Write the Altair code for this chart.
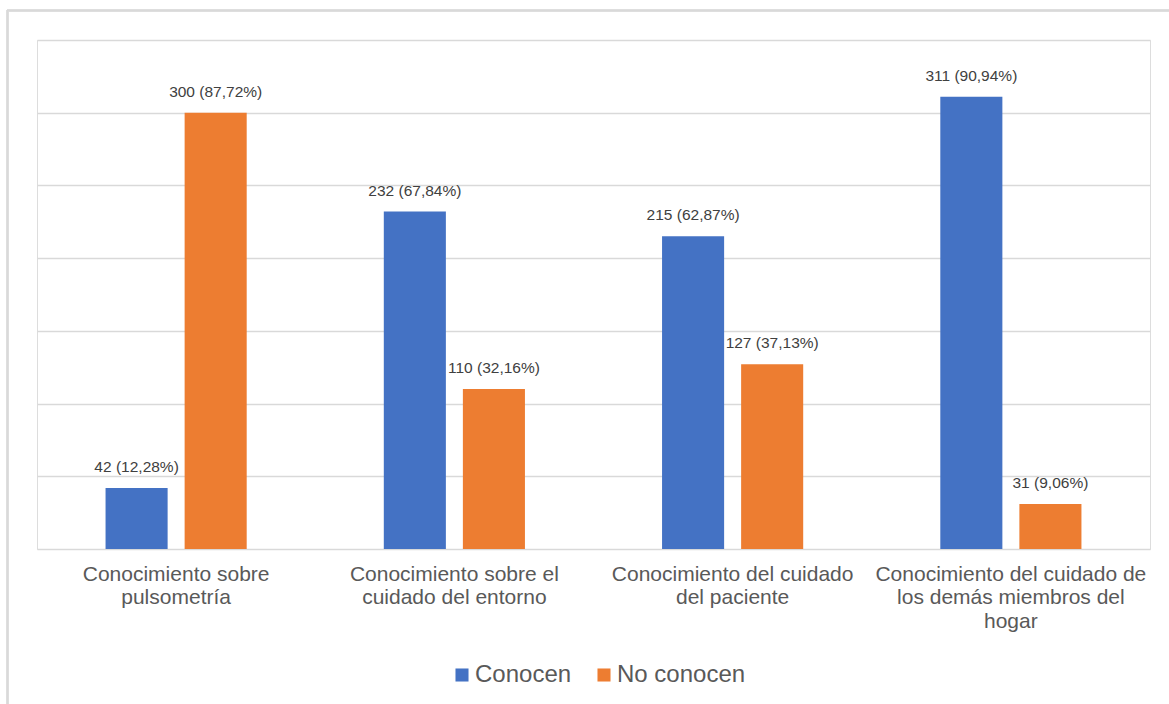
import altair as alt
import pandas as pd

categories = [
    "Conocimiento sobre|pulsometría",
    "Conocimiento sobre el|cuidado del entorno",
    "Conocimiento  del cuidado|del paciente",
    "Conocimiento del cuidado de|los demás miembros del|hogar",
]
series = ["Conocen", "No conocen"]
conocen = [42, 232, 215, 311]
no_conocen = [300, 110, 127, 31]
pct_conocen = ["12,28%", "67,84%", "62,87%", "90,94%"]
pct_no_conocen = ["87,72%", "32,16%", "37,13%", "9,06%"]
grid_values = [0, 50, 100, 150, 200, 250, 300, 350]

rows = []
for i, c in enumerate(categories):
    rows.append({"cat": c, "serie": series[0], "n": conocen[i],
                 "lab": f"{conocen[i]} ({pct_conocen[i]})"})
    rows.append({"cat": c, "serie": series[1], "n": no_conocen[i],
                 "lab": f"{no_conocen[i]} ({pct_no_conocen[i]})"})
df = pd.DataFrame(rows)

W, H = 1113, 509
FONT = "Liberation Sans"

x = alt.X("cat:N", sort=categories, title=None,
          scale=alt.Scale(paddingInner=0, paddingOuter=0),
          axis=alt.Axis(labelExpr="split(datum.label, '|')", labelAngle=0,
                        labelFontSize=21, labelColor="#595959", labelFont=FONT,
                        labelLineHeight=23.5, labelPadding=14, domain=False,
                        ticks=False, grid=False, labelBaseline="top",
                        labelLimit=0))
xo = alt.XOffset("serie:N", sort=series,
                 scale=alt.Scale(paddingInner=0.215, paddingOuter=0.867))
y = alt.Y("n:Q", title=None, scale=alt.Scale(domain=[0, 350], nice=False),
          axis=alt.Axis(values=grid_values, labels=False, ticks=False,
                        domain=False, gridColor="#d9d9d9", gridWidth=1.3))

color = alt.Color("serie:N", sort=series,
                  scale=alt.Scale(domain=series, range=["#4472C4", "#ED7D31"]),
                  legend=alt.Legend(title=None, orient="none", direction="horizontal",
                                    legendX=413, legendY=623, symbolType="square",
                                    symbolSize=170, symbolStrokeWidth=0,
                                    labelFontSize=24, labelColor="#595959",
                                    labelFont=FONT, columnPadding=20,
                                    labelOffset=1))

bars = alt.Chart(df).mark_bar().encode(x=x, xOffset=xo, y=y, color=color)
text = alt.Chart(df).mark_text(baseline="alphabetic", dy=-16, fontSize=15.5,
                               color="#404040", font=FONT).encode(
    x=x, xOffset=xo, y=y, text="lab:N")

left_border = alt.Chart(df).mark_rule(color="#d9d9d9", strokeWidth=1.5).encode(
    x=alt.value(-29.5), y=alt.value(-30), y2=alt.value(H + 160))
top_border = alt.Chart(df).mark_rule(color="#d9d9d9", strokeWidth=1.5).encode(
    x=alt.value(-30), x2=alt.value(W + 60), y=alt.value(-29.5))

chart = alt.layer(bars, text, left_border, top_border).properties(
    width=W, height=H,
    autosize=alt.AutoSizeParams(type="none"),
    padding={"left": 37, "top": 40, "right": 19, "bottom": 155},
).configure_view(stroke=None).configure(background="white")

chart.save("out.html", embed_options={"renderer": "svg", "actions": False})
